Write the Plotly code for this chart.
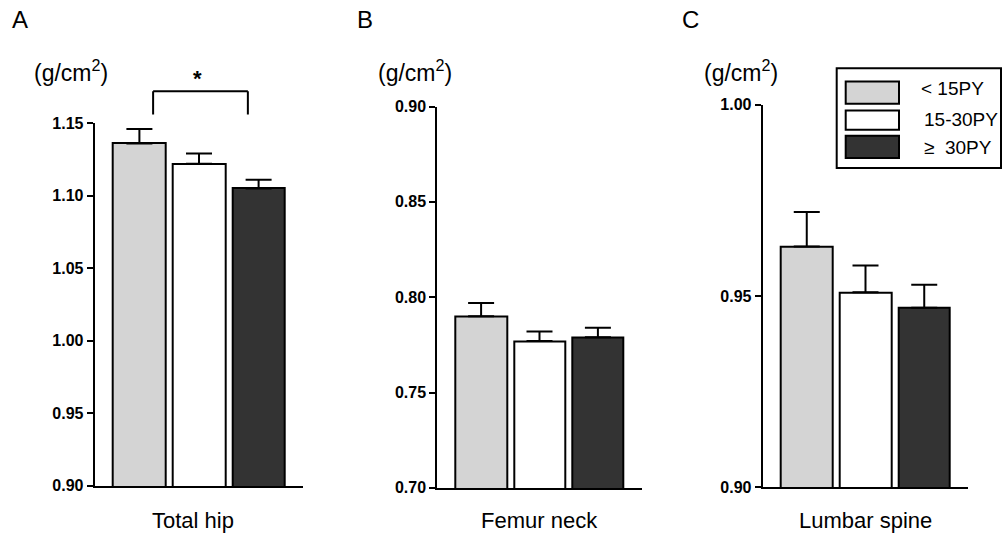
import plotly.graph_objects as go

# ---------------- data ----------------
groups = ["< 15PY", "15-30PY", "\u2265  30PY"]
group_colors = ["#d4d4d4", "#ffffff", "#333333"]
sites = ["Total hip", "Femur neck", "Lumbar spine"]
panel_letters = ["A", "B", "C"]

means_A = [1.136, 1.122, 1.105]
sem_A = [0.010, 0.007, 0.006]
means_B = [0.790, 0.777, 0.779]
sem_B = [0.007, 0.005, 0.005]
means_C = [0.963, 0.951, 0.947]
sem_C = [0.009, 0.007, 0.006]

y_ranges = [(0.90, 1.15), (0.70, 0.90), (0.90, 1.00)]
tick_step = 0.05

# significance bracket (panel A)
sig_x = [0.23, 1.82]
sig_y = [1.156, 1.172]
sig_text = "*"

# ---------------- layout geometry (pixels) ----------------
W, H = 1004, 537
panel_x_px = [(94.7, 303.3), (437.3, 641.7), (762.7, 968.3)]
panel_y_px = [(123.3, 486.7), (106.7, 488.7), (105.0, 488.3)]
unit_x_px = [32, 376, 702]
letter_x_px = [10, 355, 680]
label_shift = [-6, 0, 0]

FONT = "Liberation Sans, Arial, sans-serif"

def px(xp):
    return xp / W

def py(yp):
    # vertical calibration of the rendering pipeline
    yl = (yp - 8.0) / 0.97
    return 1 - yl / H

fig = go.Figure()
means_all = [means_A, means_B, means_C]
sems_all = [sem_A, sem_B, sem_C]
xpos = [0, 1, 2]

for i in range(3):
    ax = "" if i == 0 else str(i + 1)
    fig.add_trace(go.Bar(
        x=xpos, y=means_all[i],
        width=0.88,
        marker=dict(color=group_colors, line=dict(color="black", width=2)),
        error_y=dict(type="data", symmetric=False, array=sems_all[i],
                     arrayminus=[0, 0, 0], color="black", thickness=2, width=13),
        xaxis="x" + ax, yaxis="y" + ax,
        showlegend=False, hoverinfo="skip",
    ))
    lo, hi = y_ranges[i]
    n = int(round((hi - lo) / tick_step))
    ticks = [round(lo + k * tick_step, 2) for k in range(n + 1)]
    fig.layout["xaxis" + ax] = dict(
        domain=[px(panel_x_px[i][0]), px(panel_x_px[i][1])],
        range=[-0.75, 2.75], anchor="y" + ax,
        showline=True, linecolor="black", linewidth=2,
        showticklabels=False, ticks="", showgrid=False, zeroline=False,
        fixedrange=True,
    )
    fig.layout["yaxis" + ax] = dict(
        domain=[py(panel_y_px[i][1]), py(panel_y_px[i][0])],
        range=[lo, hi], anchor="x" + ax,
        showline=True, linecolor="black", linewidth=2,
        tickmode="array", tickvals=ticks, ticktext=["%.2f" % t for t in ticks],
        ticks="outside", ticklen=6, tickwidth=2, tickcolor="black",
        tickfont=dict(family=FONT, size=16, color="black", weight="bold"),
        showgrid=False, zeroline=False, fixedrange=True,
    )
    # x-axis category label
    fig.add_annotation(
        text=sites[i], xref="x" + ax, yref="paper", x=1, y=py(521),
        xshift=label_shift[i], showarrow=False, yanchor="middle",
        font=dict(family=FONT, size=22, color="black"),
    )
    # units label
    fig.add_annotation(
        text="(g/cm<sup>2</sup>)", xref="paper", yref="paper",
        x=px(unit_x_px[i]), y=py(71), xanchor="left", yanchor="middle",
        showarrow=False, font=dict(family=FONT, size=23, color="black"),
    )
    # panel letter
    fig.add_annotation(
        text=panel_letters[i], xref="paper", yref="paper",
        x=px(letter_x_px[i]), y=py(20), xanchor="left", yanchor="middle",
        showarrow=False, font=dict(family=FONT, size=24, color="black"),
    )

# significance bracket in panel A
lo, hi = y_ranges[0]
def yd(v):
    return (v - lo) / (hi - lo)

for (x0, y0, x1, y1) in [
    (sig_x[0], sig_y[0], sig_x[0], sig_y[1]),
    (sig_x[0], sig_y[1], sig_x[1], sig_y[1]),
    (sig_x[1], sig_y[1], sig_x[1], sig_y[0]),
]:
    fig.add_shape(type="line", xref="x", yref="y domain",
                  x0=x0, x1=x1, y0=yd(y0), y1=yd(y1),
                  line=dict(color="black", width=2))
fig.add_annotation(text=sig_text, xref="x", yref="y domain",
                   x=(sig_x[0] + sig_x[1]) / 2 - 0.05, y=yd(1.181),
                   showarrow=False, yanchor="middle",
                   font=dict(family=FONT, size=22, color="black", weight="bold"))

# custom legend (box with wide swatches)
fig.add_shape(type="rect", xref="paper", yref="paper",
              x0=px(836.7), x1=px(1001), y0=py(168.3), y1=py(68.3),
              line=dict(color="black", width=2), fillcolor="white")
swatch_rows = [(81.7, 104.0), (110.7, 130.0), (136.0, 158.3)]
text_rows = [(919.3, 89), (921.7, 120), (921.7, 147.5)]
for k in range(3):
    fig.add_shape(type="rect", xref="paper", yref="paper",
                  x0=px(845.7), x1=px(899), y0=py(swatch_rows[k][1]), y1=py(swatch_rows[k][0]),
                  line=dict(color="black", width=2), fillcolor=group_colors[k])
    fig.add_annotation(text=groups[k], xref="paper", yref="paper",
                       x=px(text_rows[k][0]), y=py(text_rows[k][1]),
                       xanchor="left", yanchor="middle", showarrow=False,
                       font=dict(family=FONT, size=19, color="black"))

fig.update_layout(
    width=W, height=H,
    margin=dict(l=0, r=0, t=0, b=0),
    paper_bgcolor="white", plot_bgcolor="white",
    bargap=0.0, showlegend=False,
)

fig.write_html("out.html",
               config={"displayModeBar": False, "responsive": False},
               post_script="document.body.style.margin='0';document.body.style.overflow='hidden';")
